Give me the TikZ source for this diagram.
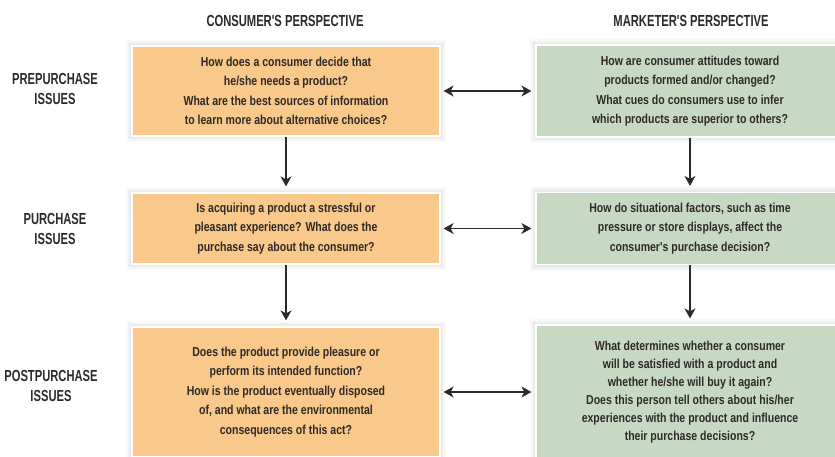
\documentclass[tikz,border=0pt]{standalone}
\usepackage{fontspec}
\usetikzlibrary{arrows.meta}
% condensed bold sans for all text
\newfontfamily\cond[FakeStretch=0.81,UprightFont={* Bold}]{Liberation Sans}
\newfontfamily\condcaps[FakeStretch=0.70,UprightFont={* Bold}]{Liberation Sans}

\definecolor{orangebox}{HTML}{F9C88B}
\definecolor{greenbox}{HTML}{C8D9C3}
\definecolor{inkdark}{HTML}{2E2A27}
\definecolor{arrowdark}{HTML}{2A2A2A}

\tikzset{
  glowbox/.style={
    rectangle, inner sep=0pt, draw=white, line width=1.2pt,
    minimum width=308pt, align=center, text=inkdark,
    font={\cond\fontsize{13}{19.5}\selectfont},
    preaction={draw=black, draw opacity=0.025, line width=12pt},
    preaction={draw=black, draw opacity=0.03, line width=8pt},
    preaction={draw=black, draw opacity=0.035, line width=4pt}
  },
  consumerbox/.style={glowbox, fill=orangebox},
  marketerbox/.style={glowbox, fill=greenbox},
  headtext/.style={text=inkdark, align=center,
    font={\condcaps\fontsize{16}{20}\selectfont}},
  vlink/.style={draw=arrowdark, line width=1.3pt,
    -{Stealth[length=10pt,width=11pt,inset=3pt]}, shorten >=6pt},
  hlink/.style={draw=arrowdark, line width=1.3pt,
    {Stealth[length=10pt,width=11pt,inset=3pt]}-{Stealth[length=10pt,width=11pt,inset=3pt]},
    shorten <=3pt, shorten >=4pt}
}

\begin{document}
\begin{tikzpicture}[x=1pt,y=-1pt]
\clip (0,0) rectangle (835,457);
\fill[white] (0,0) rectangle (835,457);

% column headings
\node[headtext] (hL) at (285,21) {CONSUMER'S PERSPECTIVE};
\node[headtext] (hR) at (691,21) {MARKETER'S PERSPECTIVE};

% row headings
\node[headtext] (rowA) at (55,89) {PREPURCHASE\\ISSUES};
\node[headtext] (rowB) at (55,229) {PURCHASE\\ISSUES};
\node[headtext] (rowC) at (51,386) {POSTPURCHASE\\ISSUES};

% consumer column
\node[consumerbox, minimum height=90pt] (L1) at (286,91)
  {How does a consumer decide that\\he/she needs a product?\\What are the best sources of information\\to learn more about alternative choices?};
\node[consumerbox, minimum height=71pt] (L2) at (286,228.5)
  {Is acquiring a product a stressful or\\pleasant experience? What does the\\purchase say about the consumer?};
\node[consumerbox, minimum height=130pt] (L3) at (286,392)
  {Does the product provide pleasure or\\perform its intended function?\\How is the product eventually disposed\\of, and what are the environmental\\consequences of this act?};

% marketer column
\node[marketerbox, minimum height=92pt] (R1) at (690,91)
  {How are consumer attitudes toward\\products formed and/or changed?\\What cues do consumers use to infer\\which products are superior to others?};
\node[marketerbox, minimum height=72pt] (R2) at (690,228.5)
  {How do situational factors, such as time\\pressure or store displays, affect the\\consumer's purchase decision?};
\node[marketerbox, minimum height=134pt,
      font={\cond\fontsize{13}{18}\selectfont}] (R3) at (690,392)
  {What determines whether a consumer\\will be satisfied with a product and\\whether he/she will buy it again?\\Does this person tell others about his/her\\experiences with the product and influence\\their purchase decisions?};

% flow down each column
\draw[vlink] (L1.south) -- (L2.north);
\draw[vlink] (L2.south) -- (L3.north);
\draw[vlink] (R1.south) -- (R2.north);
\draw[vlink] (R2.south) -- (R3.north);

% links between the two perspectives
\draw[hlink] (L1.east) -- (R1.west);
\draw[hlink] (L2.east) -- (R2.west);
\draw[hlink] (L3.east) -- (R3.west);
\end{tikzpicture}
\end{document}
